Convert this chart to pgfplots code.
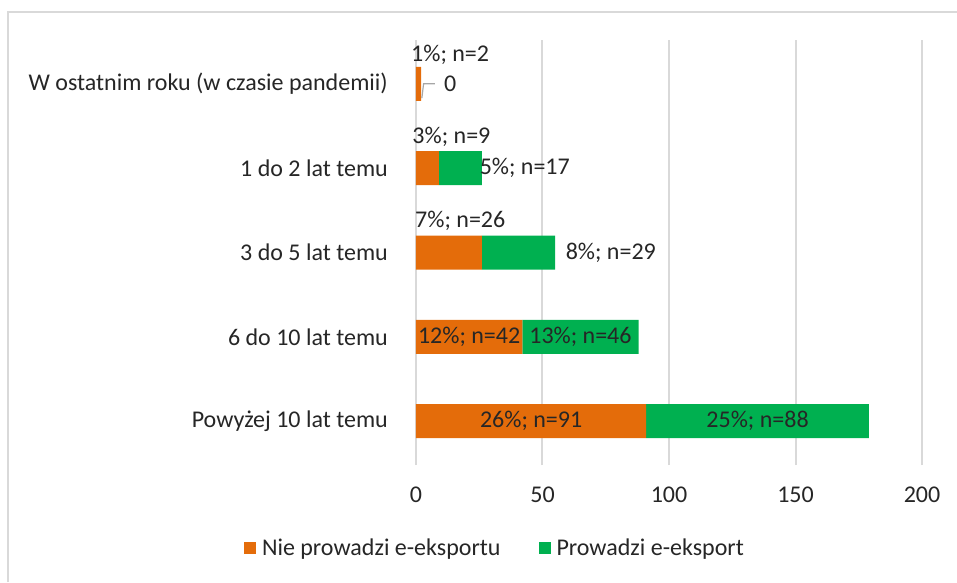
\documentclass[border=0pt]{standalone}
\usepackage{fontspec}
\setmainfont{Carlito}
\usepackage{pgfplots}
\pgfplotsset{compat=1.18}
\definecolor{orng}{HTML}{E46C0A}
\definecolor{grn}{HTML}{00B050}
\definecolor{grd}{HTML}{D9D9D9}
\definecolor{txt}{HTML}{262626}
\newcommand{\labfont}{\fontsize{24}{28}\selectfont}
\begin{document}
\begin{tikzpicture}[x=1pt,y=1pt]
\useasboundingbox (-416,-117) rectangle (541,465);
\draw[grd, line width=2pt] (-408,-117) -- (-408,453) -- (541,453);
\begin{axis}[
  at={(0,0)}, anchor=south west,
  scale only axis, width=506pt, height=425pt,
  xbar stacked, bar width=34pt,
  xmin=0, xmax=200, ymin=-0.52, ymax=4.52,
  xtick={0,50,...,200}, ytick={0,...,4},
  yticklabels={Powyżej 10 lat temu, 6 do 10 lat temu, 3 do 5 lat temu, 1 do 2 lat temu, W ostatnim roku (w czasie pandemii)},
  axis line style={draw=none},
  xmajorgrids, grid style={grd, line width=2pt},
  major tick length=0,
  /pgf/number format/assume math mode=true,
  tick label style={font=\labfont, text=txt, inner sep=0pt},
  yticklabel style={xshift=-28pt},
  xticklabel style={yshift=-22pt},
  legend style={at={(0.156,-0.195)}, anchor=center, draw=none, legend columns=2,
    font=\labfont, text=txt,
    /tikz/every odd column/.append style={column sep=4pt},
    /tikz/every even column/.append style={column sep=36pt}},
  legend image code/.code={\fill[#1] (0pt,-6pt) rectangle (12pt,6pt);},
]
\addplot[fill=orng, draw=none] coordinates {(91,0) (42,1) (26,2) (9,3) (2,4)};
\addplot[fill=grn, draw=none] coordinates {(88,0) (46,1) (29,2) (17,3) (0,4)};
\legend{Nie prowadzi e-eksportu, Prowadzi e-eksport}
\coordinate (L1) at (axis cs:45.5,0);
\coordinate (L2) at (axis cs:135,0);
\coordinate (L3) at (axis cs:21,1);
\coordinate (L4) at (axis cs:65,1);
\coordinate (L5) at (axis cs:17.5,2.38);
\coordinate (L6) at (axis cs:77,2);
\coordinate (L7) at (axis cs:14,3.37);
\coordinate (L8) at (axis cs:43,3);
\coordinate (L9) at (axis cs:13.5,4.34);
\coordinate (L10) at (axis cs:13.5,4);
\coordinate (P1) at (axis cs:2.3,3.83);
\coordinate (P2) at (axis cs:3,4);
\coordinate (P3) at (axis cs:7.5,4);
\end{axis}
\begin{scope}[every node/.style={font=\labfont, text=txt, inner sep=0pt}]
\node at (L1) {26\%; n=91};
\node at (L2) {25\%; n=88};
\node at (L3) {12\%; n=42};
\node at (L4) {13\%; n=46};
\node at (L5) {7\%; n=26};
\node at (L6) {8\%; n=29};
\node at (L7) {3\%; n=9};
\node at (L8) {5\%; n=17};
\node at (L9) {1\%; n=2};
\node at (L10) {0};
\end{scope}
\draw[gray!70, line width=1.2pt] (P1) -- (P2) -- (P3);
\end{tikzpicture}
\end{document}
